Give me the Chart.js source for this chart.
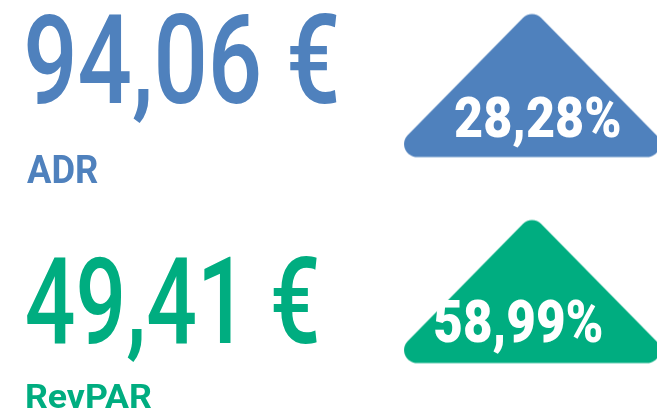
<!DOCTYPE html>
<html>
<head>
<meta charset="utf-8">
<script src="https://cdn.jsdelivr.net/npm/chart.js@4.4.1/dist/chart.umd.min.js"></script>
<style>
  html, body { margin: 0; padding: 0; background: #fff; }
  #wrap { width: 657px; height: 417px; }
</style>
</head>
<body>
<div id="wrap"><canvas id="kpiChart" width="657" height="417"></canvas></div>
<script>
(function () {
  "use strict";

  // ── Data ─────────────────────────────────────────────────────────
  const KPI_LABELS = ["ADR", "RevPAR"];
  const KPI_VALUES = [94.06, 49.41];    // EUR
  const KPI_CHANGES = [28.28, 58.99];   // % change
  const KPI_COLORS = ["#4F81BD", "#00AD80"];

  // ── Layout per row (offsets from the triangle centre) ────────────
  const VALUE_SIZE = [124, 121];
  const VALUE_WIDTH = [310, 290];
  const VALUE_DY = [17.5, 51.5];
  const LABEL_SIZE = [38, 34];
  const LABEL_WIDTH = [71, 124];
  const LABEL_DY = [97.8, 116.8];
  const CHANGE_SIZE = [56, 59];
  const CHANGE_WIDTH = [165, 167];
  const CHANGE_DX = [-77, -97];
  const CHANGE_DY = [51.5, 50.5];

  function fmt(v, suffix) {
    return v.toFixed(2).replace(".", ",") + suffix;
  }

  // rounded triangle used as point style
  function makeTriangle(color) {
    var c = document.createElement("canvas");
    c.width = 340;
    c.height = 180;
    var g = c.getContext("2d");
    var r = 13, ax = 170, ay = 13, by = 161.5, half = 146;
    g.fillStyle = color;
    g.beginPath();
    g.moveTo(ax, by);
    g.arcTo(ax + half, by, ax, ay, r);
    g.arcTo(ax, ay, ax - half, by, r);
    g.arcTo(ax - half, by, ax + half, by, r);
    g.closePath();
    g.fill();
    return c;
  }

  // draw text with its ink starting at x, optionally squeezed to a width
  function drawText(ctx, text, x, y, font, color, width) {
    ctx.save();
    ctx.font = font;
    ctx.fillStyle = color;
    ctx.textAlign = "left";
    ctx.textBaseline = "alphabetic";
    var m = ctx.measureText(text);
    var ink = m.actualBoundingBoxLeft + m.actualBoundingBoxRight;
    var sx = width ? width / ink : 1;
    ctx.translate(x, y);
    ctx.scale(sx, 1);
    ctx.fillText(text, m.actualBoundingBoxLeft, 0);
    ctx.restore();
  }

  const kpiText = {
    id: "kpiText",
    afterDatasetsDraw: function (chart) {
      var ctx = chart.ctx;
      var meta = chart.getDatasetMeta(0);
      var left = chart.scales.x.getPixelForValue(0);
      meta.data.forEach(function (pt, i) {
        drawText(ctx, fmt(KPI_VALUES[i], " €"), left, pt.y + VALUE_DY[i],
          "500 " + VALUE_SIZE[i] + "px Roboto", KPI_COLORS[i], VALUE_WIDTH[i]);
        drawText(ctx, KPI_LABELS[i], left, pt.y + LABEL_DY[i],
          "700 " + LABEL_SIZE[i] + "px Roboto", KPI_COLORS[i], LABEL_WIDTH[i]);
        drawText(ctx, fmt(KPI_CHANGES[i], "%"), pt.x + CHANGE_DX[i], pt.y + CHANGE_DY[i],
          "900 " + CHANGE_SIZE[i] + "px Roboto", "#ffffff", CHANGE_WIDTH[i]);
      });
    },
  };

  new Chart(document.getElementById("kpiChart"), {
    type: "scatter",
    data: {
      datasets: [
        {
          data: KPI_CHANGES.map(function (v, i) { return { x: 1, y: i }; }),
          pointStyle: KPI_COLORS.map(makeTriangle),
          rotation: KPI_CHANGES.map(function (v) { return v >= 0 ? 0 : 180; }),
          pointRadius: 10,
          clip: false,
        },
      ],
    },
    options: {
      responsive: false,
      animation: false,
      events: [],
      layout: { padding: 0, autoPadding: false },
      plugins: {
        legend: { display: false },
        tooltip: { enabled: false },
      },
      scales: {
        x: { type: "linear", min: -0.0535, max: 1.2475, display: false },
        y: { type: "linear", min: -0.415, max: 1.609, reverse: true, display: false },
      },
    },
    plugins: [kpiText],
  });
})();
</script>
</body>
</html>
